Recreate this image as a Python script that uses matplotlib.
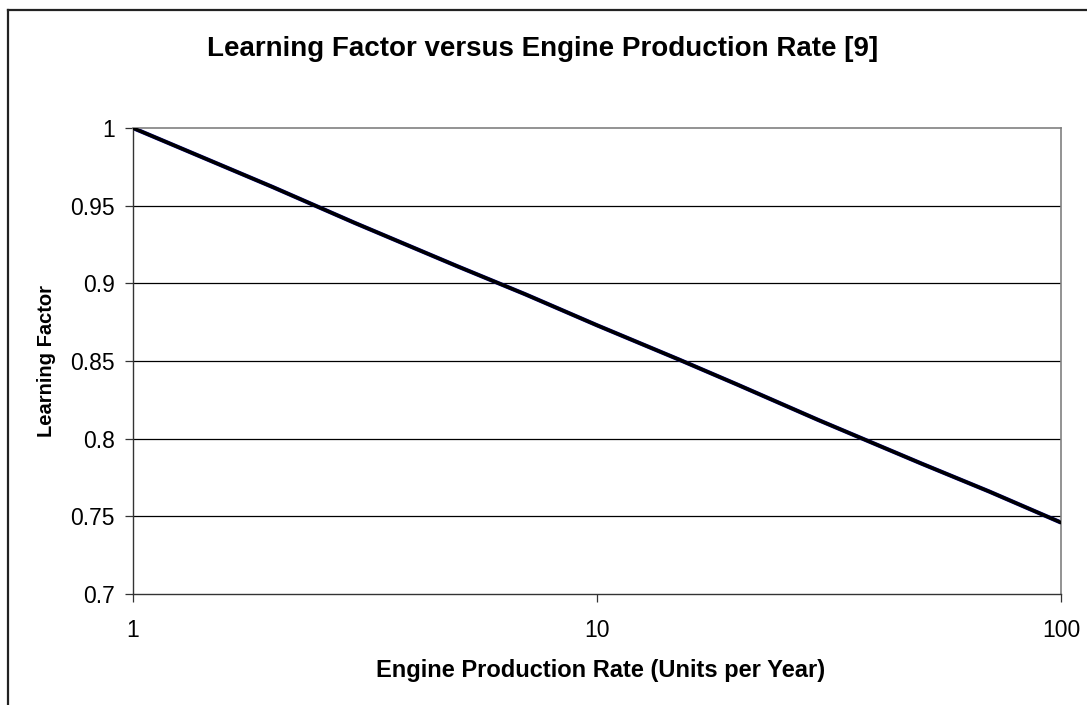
import numpy as np
import matplotlib.pyplot as plt
from matplotlib.lines import Line2D
from matplotlib.ticker import FixedLocator, NullLocator

plt.rcParams["font.family"] = ["Liberation Sans", "DejaVu Sans"]

# learning factor
rate = [1, 2, 3, 5, 7, 10, 15, 20, 30, 50, 70, 100]
factor = [1.0, 0.962, 0.939, 0.911, 0.893, 0.873, 0.851, 0.835, 0.812, 0.784, 0.766, 0.746]

y_ticks = [0.7, 0.75, 0.8, 0.85, 0.9, 0.95, 1.0]
y_labels = ["0.7", "0.75", "0.8", "0.85", "0.9", "0.95", "1"]
x_ticks = [1, 10, 100]
x_labels = ["1", "10", "100"]

W, H = 1087, 705
fig = plt.figure(figsize=(W / 100, H / 100), dpi=100)
ax = fig.add_axes([133 / W, 1 - 594 / H, (1061 - 133) / W, (594 - 128) / H])

ax.set_xscale("log")
ax.set_xlim(1, 100)
ax.set_ylim(0.7, 1.0)

for y in y_ticks[1:-1]:
    ax.axhline(y, color="black", lw=0.9, zorder=1)

ax.plot(rate, factor, color="#000080", lw=3.0, zorder=2)
ax.plot(rate, factor, color="black", lw=2.4, zorder=3)

ax.xaxis.set_major_locator(FixedLocator(x_ticks))
ax.xaxis.set_minor_locator(NullLocator())
ax.set_xticklabels(x_labels)
ax.set_yticks(y_ticks)
ax.set_yticklabels(y_labels)
ax.tick_params(axis="both", direction="out", length=6, width=0.9,
               color="#333333", labelsize=16.5)
ax.tick_params(axis="x", pad=12)
ax.tick_params(axis="y", pad=7)

for side in ("left", "bottom"):
    ax.spines[side].set_color("#333333")
    ax.spines[side].set_linewidth(1.0)
for side in ("top", "right"):
    ax.spines[side].set_color("#808080")
    ax.spines[side].set_linewidth(1.2)

fig.text(601 / W, 1 - 671 / H, "Engine Production Rate (Units per Year)",
         ha="center", va="center", fontsize=17, fontweight="bold")
fig.text(47 / W, 1 - 361 / H, "Learning Factor", rotation=90,
         ha="center", va="center", fontsize=14.5, fontweight="bold")
fig.text(543 / W, 1 - 49 / H,
         "Learning Factor versus Engine Production Rate [9]",
         ha="center", va="center", fontsize=20, fontweight="bold")

# chart frame, only its top and left edges fall inside the image
fig.add_artist(Line2D([8 / W, 8 / W], [0, 1 - 10 / H], color="#222222",
                      lw=1.6, transform=fig.transFigure))
fig.add_artist(Line2D([8 / W, 1], [1 - 10 / H, 1 - 10 / H], color="#222222",
                      lw=1.6, transform=fig.transFigure))

fig.savefig("out.png", dpi=100)
